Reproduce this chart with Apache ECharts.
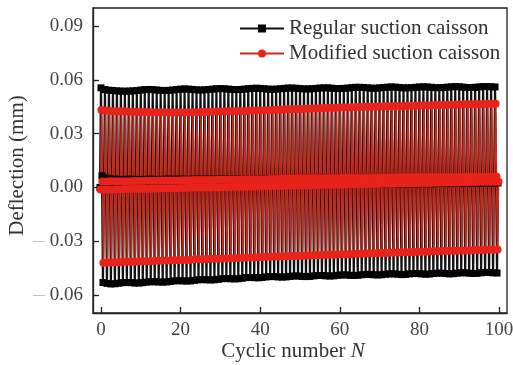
<!DOCTYPE html>
<html><head><meta charset="utf-8">
<script src="https://cdn.jsdelivr.net/npm/echarts@6/dist/echarts.min.js"></script>
<style>html,body{margin:0;padding:0;background:#fff}#c{width:513px;height:365px}</style>
</head><body><div id="c"></div>
<script>
// Cycle index N (0..99); each cycle: residual-before, peak, residual-after, trough
const xTicks = [0, 20, 40, 60, 80, 100];
const yTicks = [-0.06, -0.03, 0.00, 0.03, 0.06, 0.09];

const regularPeak = [
0.0555,0.0545,0.0542,0.0540,0.0538,0.0537,0.0536,0.0537,0.0538,0.0540,
0.0543,0.0545,0.0546,0.0545,0.0543,0.0541,0.0540,0.0541,0.0543,0.0546,
0.0548,0.0549,0.0548,0.0546,0.0544,0.0543,0.0544,0.0546,0.0548,0.0550,
0.0551,0.0550,0.0548,0.0546,0.0545,0.0546,0.0548,0.0550,0.0552,0.0553,
0.0552,0.0550,0.0548,0.0547,0.0548,0.0550,0.0552,0.0554,0.0554,0.0553,
0.0551,0.0549,0.0549,0.0550,0.0552,0.0554,0.0555,0.0555,0.0553,0.0551,
0.0551,0.0552,0.0554,0.0556,0.0558,0.0558,0.0557,0.0555,0.0553,0.0553,
0.0555,0.0557,0.0559,0.0560,0.0559,0.0557,0.0555,0.0555,0.0556,0.0558,
0.0560,0.0561,0.0560,0.0558,0.0556,0.0556,0.0557,0.0559,0.0561,0.0562,
0.0561,0.0559,0.0557,0.0557,0.0558,0.0560,0.0562,0.0562,0.0561,0.0560];
const regularTrough = [
-0.0530,-0.0535,-0.0538,-0.0537,-0.0534,-0.0531,-0.0530,-0.0531,-0.0533,-0.0533,
-0.0531,-0.0528,-0.0526,-0.0526,-0.0527,-0.0528,-0.0527,-0.0524,-0.0521,-0.0520,
-0.0521,-0.0522,-0.0521,-0.0518,-0.0515,-0.0514,-0.0515,-0.0516,-0.0515,-0.0512,
-0.0509,-0.0508,-0.0509,-0.0510,-0.0509,-0.0506,-0.0503,-0.0502,-0.0503,-0.0504,
-0.0502,-0.0499,-0.0497,-0.0497,-0.0499,-0.0500,-0.0499,-0.0496,-0.0494,-0.0494,
-0.0496,-0.0497,-0.0496,-0.0493,-0.0491,-0.0491,-0.0493,-0.0494,-0.0493,-0.0490,
-0.0488,-0.0488,-0.0490,-0.0491,-0.0490,-0.0487,-0.0485,-0.0485,-0.0487,-0.0488,
-0.0487,-0.0484,-0.0482,-0.0482,-0.0484,-0.0486,-0.0485,-0.0482,-0.0480,-0.0480,
-0.0482,-0.0484,-0.0483,-0.0480,-0.0478,-0.0478,-0.0480,-0.0482,-0.0481,-0.0478,
-0.0476,-0.0476,-0.0478,-0.0480,-0.0479,-0.0476,-0.0474,-0.0474,-0.0476,-0.0477];
const regularResBefore = [
0.0000,0.0001,0.0001,0.0000,0.0001,0.0002,0.0002,0.0001,0.0002,0.0003,
0.0003,0.0002,0.0003,0.0004,0.0004,0.0003,0.0004,0.0005,0.0005,0.0004,
0.0005,0.0006,0.0006,0.0005,0.0006,0.0007,0.0007,0.0006,0.0007,0.0008,
0.0008,0.0007,0.0008,0.0009,0.0009,0.0008,0.0009,0.0010,0.0010,0.0009,
0.0010,0.0011,0.0011,0.0010,0.0011,0.0012,0.0012,0.0011,0.0012,0.0013,
0.0013,0.0012,0.0013,0.0014,0.0014,0.0013,0.0014,0.0015,0.0015,0.0014,
0.0015,0.0016,0.0016,0.0015,0.0016,0.0017,0.0017,0.0016,0.0017,0.0018,
0.0018,0.0017,0.0018,0.0019,0.0019,0.0018,0.0019,0.0020,0.0020,0.0019,
0.0020,0.0021,0.0021,0.0020,0.0021,0.0022,0.0022,0.0021,0.0022,0.0023,
0.0023,0.0022,0.0023,0.0024,0.0024,0.0023,0.0024,0.0025,0.0025,0.0024,0.0025];
const regularResAfter = [
0.0065,0.0052,0.0048,0.0046,0.0045,0.0044,0.0045,0.0046,0.0045,0.0044,
0.0044,0.0045,0.0046,0.0045,0.0044,0.0045,0.0046,0.0046,0.0045,0.0046,
0.0046,0.0045,0.0045,0.0046,0.0047,0.0046,0.0046,0.0047,0.0047,0.0046,
0.0046,0.0047,0.0048,0.0047,0.0047,0.0048,0.0048,0.0047,0.0047,0.0048,
0.0049,0.0048,0.0048,0.0049,0.0049,0.0048,0.0048,0.0049,0.0050,0.0049,
0.0049,0.0050,0.0050,0.0049,0.0049,0.0050,0.0051,0.0050,0.0050,0.0051,
0.0051,0.0050,0.0050,0.0051,0.0052,0.0051,0.0051,0.0052,0.0052,0.0051,
0.0051,0.0052,0.0053,0.0052,0.0052,0.0053,0.0053,0.0052,0.0052,0.0053,
0.0054,0.0053,0.0053,0.0054,0.0054,0.0053,0.0053,0.0054,0.0055,0.0054,
0.0054,0.0055,0.0055,0.0054,0.0054,0.0055,0.0056,0.0055,0.0055,0.0056];

const modifiedPeak = [
0.0432,0.0428,0.0426,0.0425,0.0424,0.0425,0.0423,0.0422,0.0422,0.0421,
0.0420,0.0421,0.0419,0.0419,0.0418,0.0419,0.0418,0.0417,0.0418,0.0417,
0.0417,0.0418,0.0419,0.0419,0.0418,0.0420,0.0421,0.0420,0.0422,0.0423,
0.0423,0.0425,0.0424,0.0425,0.0426,0.0426,0.0425,0.0427,0.0428,0.0428,
0.0428,0.0430,0.0430,0.0431,0.0433,0.0433,0.0434,0.0436,0.0436,0.0437,
0.0437,0.0439,0.0439,0.0440,0.0441,0.0441,0.0442,0.0444,0.0443,0.0444,
0.0445,0.0447,0.0446,0.0447,0.0448,0.0448,0.0449,0.0450,0.0450,0.0450,
0.0451,0.0452,0.0452,0.0452,0.0454,0.0453,0.0454,0.0455,0.0455,0.0455,
0.0456,0.0458,0.0457,0.0458,0.0459,0.0459,0.0460,0.0461,0.0461,0.0461,
0.0462,0.0463,0.0463,0.0463,0.0465,0.0464,0.0465,0.0466,0.0466,0.0466];
const modifiedTrough = [
-0.0420,-0.0419,-0.0419,-0.0417,-0.0417,-0.0415,-0.0415,-0.0414,-0.0414,-0.0412,
-0.0412,-0.0411,-0.0411,-0.0409,-0.0409,-0.0408,-0.0408,-0.0406,-0.0406,-0.0405,
-0.0404,-0.0404,-0.0403,-0.0401,-0.0401,-0.0400,-0.0400,-0.0398,-0.0398,-0.0397,
-0.0396,-0.0396,-0.0395,-0.0393,-0.0393,-0.0392,-0.0391,-0.0390,-0.0390,-0.0389,
-0.0388,-0.0387,-0.0387,-0.0385,-0.0385,-0.0384,-0.0384,-0.0382,-0.0382,-0.0381,
-0.0381,-0.0380,-0.0379,-0.0377,-0.0378,-0.0377,-0.0376,-0.0374,-0.0375,-0.0374,
-0.0373,-0.0372,-0.0372,-0.0370,-0.0370,-0.0369,-0.0369,-0.0367,-0.0367,-0.0366,
-0.0366,-0.0365,-0.0364,-0.0363,-0.0363,-0.0362,-0.0361,-0.0360,-0.0360,-0.0359,
-0.0359,-0.0358,-0.0357,-0.0356,-0.0356,-0.0355,-0.0355,-0.0353,-0.0353,-0.0353,
-0.0352,-0.0351,-0.0351,-0.0349,-0.0349,-0.0349,-0.0348,-0.0346,-0.0347,-0.0346];
const modifiedResBefore = [
-0.0012,-0.0012,-0.0011,-0.0011,-0.0010,-0.0010,-0.0009,-0.0009,-0.0008,-0.0008,
-0.0008,-0.0007,-0.0007,-0.0006,-0.0006,-0.0005,-0.0005,-0.0004,-0.0004,-0.0004,
-0.0003,-0.0003,-0.0002,-0.0002,-0.0001,-0.0001,0.0000,0.0000,0.0001,0.0001,
0.0001,0.0002,0.0002,0.0003,0.0003,0.0004,0.0004,0.0005,0.0005,0.0005,
0.0006,0.0006,0.0007,0.0007,0.0008,0.0008,0.0009,0.0009,0.0010,0.0010,
0.0010,0.0011,0.0011,0.0012,0.0012,0.0013,0.0013,0.0014,0.0014,0.0014,
0.0015,0.0015,0.0016,0.0016,0.0017,0.0017,0.0018,0.0018,0.0019,0.0019,
0.0019,0.0020,0.0020,0.0021,0.0021,0.0022,0.0022,0.0023,0.0023,0.0023,
0.0024,0.0024,0.0025,0.0025,0.0026,0.0026,0.0027,0.0027,0.0028,0.0028,
0.0028,0.0029,0.0029,0.0030,0.0030,0.0031,0.0031,0.0031,0.0032,0.0032,0.0032];
const modifiedResAfter = [
0.0033,0.0033,0.0034,0.0034,0.0034,0.0035,0.0035,0.0035,0.0036,0.0036,
0.0036,0.0037,0.0037,0.0037,0.0038,0.0038,0.0038,0.0039,0.0039,0.0039,
0.0040,0.0040,0.0040,0.0041,0.0041,0.0041,0.0042,0.0042,0.0042,0.0043,
0.0043,0.0043,0.0044,0.0044,0.0044,0.0045,0.0045,0.0045,0.0046,0.0046,
0.0046,0.0046,0.0047,0.0047,0.0047,0.0048,0.0048,0.0048,0.0048,0.0049,
0.0049,0.0049,0.0050,0.0050,0.0050,0.0050,0.0051,0.0051,0.0051,0.0051,
0.0052,0.0052,0.0052,0.0052,0.0053,0.0053,0.0053,0.0053,0.0053,0.0054,
0.0054,0.0054,0.0054,0.0054,0.0055,0.0055,0.0055,0.0055,0.0055,0.0056,
0.0056,0.0056,0.0056,0.0056,0.0056,0.0057,0.0057,0.0057,0.0057,0.0057,
0.0057,0.0058,0.0058,0.0058,0.0058,0.0058,0.0058,0.0058,0.0059,0.0059];

function buildCycles(before, peak, after, trough, shift) {
  const pts = [];
  for (let i = 0; i < peak.length; i++) {
    pts.push([i - 0.25 + shift, before[i]]);
    pts.push([i + shift, peak[i]]);
    pts.push([i + 0.25 + shift, after[i]]);
    pts.push([i + 0.5 + shift, trough[i]]);
  }
  pts.push([peak.length - 0.25 + shift, before[peak.length]]);
  return pts;
}

const FONT = '"Liberation Serif", "Times New Roman", serif';
const chart = echarts.init(document.getElementById('c'), null, {renderer: 'canvas'});
chart.setOption({
  animation: false,
  backgroundColor: '#fff',
  grid: {left: 93, top: 8, right: 6, bottom: 52, show: true, borderColor: '#222', borderWidth: 1.3,
         containLabel: false, outerBoundsMode: 'none'},
  legend: {
    orient: 'vertical', left: 239, top: 18, padding: 0, itemWidth: 44, itemHeight: 10, itemGap: 4,
    textStyle: {fontFamily: FONT, fontSize: 21, color: '#333', lineHeight: 20},
    data: ['Regular suction caisson', 'Modified suction caisson']
  },
  xAxis: {
    type: 'value', min: -2, max: 102,
    name: 'Cyclic number {i|N}', nameLocation: 'middle', nameGap: 28, nameMoveOverlap: false,
    nameTextStyle: {fontFamily: FONT, fontSize: 21, color: '#333', padding: [0, 14, 0, 0],
      rich: {i: {fontFamily: FONT, fontSize: 21, fontStyle: 'italic', color: '#333'}}},
    axisLine: {onZero: false, lineStyle: {color: '#222', width: 1.3}},
    axisTick: {inside: true, length: 6, customValues: xTicks, lineStyle: {color: '#222', width: 1.3}},
    axisLabel: {customValues: xTicks, fontFamily: FONT, fontSize: 19, color: '#444', margin: 8},
    splitLine: {show: false}
  },
  yAxis: {
    type: 'value', min: -0.07, max: 0.10,
    name: 'Deflection (mm)', nameLocation: 'middle', nameGap: 65, nameMoveOverlap: false,
    nameTextStyle: {fontFamily: FONT, fontSize: 21, color: '#333', padding: [0, 10, 0, 0]},
    axisLine: {onZero: false, lineStyle: {color: '#222', width: 1.3}},
    axisTick: {inside: true, length: 6, customValues: yTicks, lineStyle: {color: '#222', width: 1.3}},
    axisLabel: {
      customValues: yTicks, fontFamily: FONT, fontSize: 19, color: '#444', margin: 10,
      formatter: function (v) {
        const s = Math.abs(v).toFixed(2);
        return v < -1e-9 ? '{m|\u2014} ' + s : s;
      },
      rich: {m: {color: '#aaa', fontSize: 12, fontFamily: FONT}}
    },
    splitLine: {show: false}
  },
  series: [
    {
      name: 'Regular suction caisson', type: 'line',
      data: buildCycles(regularResBefore, regularPeak, regularResAfter, regularTrough, 0),
      symbol: 'rect', symbolSize: 7, showAllSymbol: true,
      lineStyle: {color: '#111', width: 2.2}, itemStyle: {color: '#000'}
    },
    {
      name: 'Modified suction caisson', type: 'line',
      data: buildCycles(modifiedResBefore, modifiedPeak, modifiedResAfter, modifiedTrough, 0.12),
      symbol: 'circle', symbolSize: 8, showAllSymbol: true,
      lineStyle: {color: '#c92a1e', width: 1.5}, itemStyle: {color: '#e8231c'}
    }
  ]
});
</script></body></html>
